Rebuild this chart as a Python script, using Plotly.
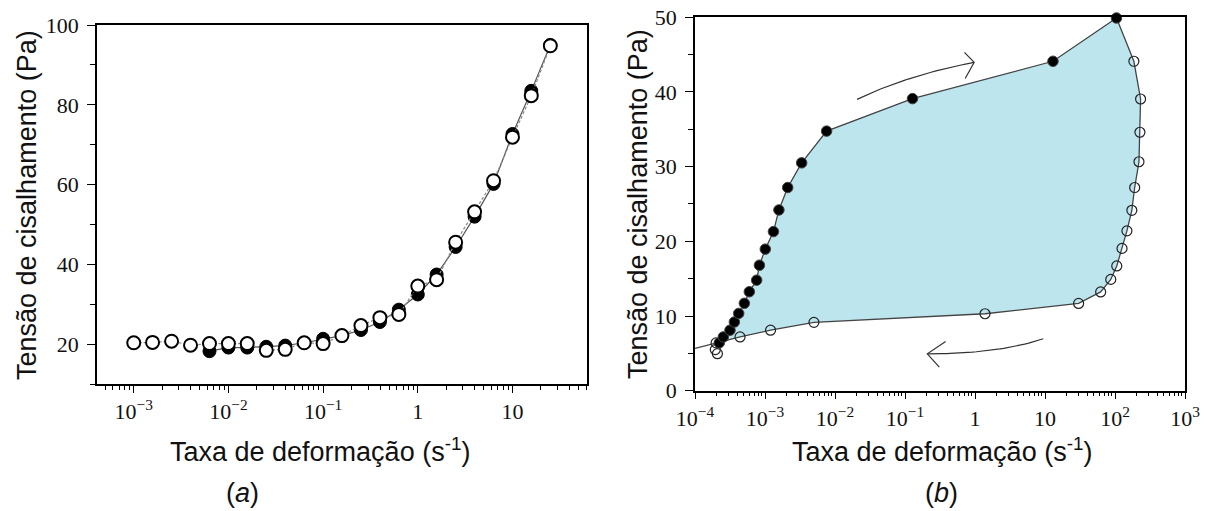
import plotly.graph_objects as go

# ---------------- Panel (a) data ----------------
a_open_x = [0.001, 0.00158, 0.00251, 0.00398, 0.00631, 0.01, 0.0158, 0.0251, 0.0398, 0.0631,
            0.1, 0.158, 0.251, 0.398, 0.631, 1.0, 1.58, 2.51, 3.98, 6.31, 10.0, 15.8, 25.1]
a_open_y = [20.4, 20.5, 20.8, 19.8, 20.2, 20.2, 20.2, 18.5, 18.75, 20.4,
            20.2, 22.2, 24.7, 26.7, 27.5, 34.6, 36.2, 45.6, 53.2, 61.0, 71.9, 82.3, 94.8]
a_fill_x = [0.00631, 0.01, 0.0158, 0.0251, 0.0398, 0.0631,
            0.1, 0.158, 0.251, 0.398, 0.631, 1.0, 1.58, 2.51, 3.98, 6.31, 10.0, 15.8, 25.1]
a_fill_y = [18.3, 19.2, 19.2, 19.4, 19.7, 20.4,
            21.4, 22.2, 23.6, 25.6, 28.7, 32.5, 37.5, 44.4, 52.0, 60.2, 72.7, 83.5, 95.0]

# ---------------- Panel (b) data ----------------
# increasing shear rate (filled circles)
b_up_x = [2.22e-4, 2.54e-4, 3.16e-4, 3.65e-4, 4.21e-4, 5.07e-4, 5.97e-4, 7.60e-4, 8.32e-4,
          1.01e-3, 1.32e-3, 1.58e-3, 2.11e-3, 3.34e-3, 7.59e-3, 0.128, 13.0, 105.0]
b_up_y = [6.4, 7.2, 8.1, 9.2, 10.35, 11.7, 13.25, 14.8, 16.8,
          18.95, 21.3, 24.2, 27.2, 30.5, 34.75, 39.1, 44.1, 49.9]
# decreasing shear rate (open circles), ordered from the top
b_down_x = [186.0, 232.0, 227.0, 220.0, 191.0, 174.0, 148.0, 126.0, 106.0, 87.0, 62.4, 30.2,
            1.39, 5.0e-3, 1.20e-3, 4.40e-4, 2.0e-4, 1.95e-4, 2.09e-4]
b_down_y = [44.1, 39.05, 34.6, 30.65, 27.2, 24.15, 21.4, 19.05, 16.7, 14.9, 13.22, 11.68,
            10.3, 9.15, 8.1, 7.2, 6.4, 5.5, 4.95]
# the descending curve runs through the first 17 open points and on to the left edge
b_down_line_n = 17
b_tail_x = [1.0e-4]
b_tail_y = [5.67]

# ---------------- styles ----------------
AX_FONT = dict(family="Liberation Serif, Times New Roman, serif", size=22, color="#111")
TITLE_FONT = dict(family="Liberation Sans, Arial, sans-serif", size=27, color="#111")
W, H = 1214, 511


def px(x):
    return x / W


def py(y):
    return 1 - y / H


def log_minor(lo, hi):
    vals = []
    for e in range(lo, hi):
        for m in range(2, 10):
            vals.append(m * 10.0 ** e)
    return vals


fig = go.Figure()

# ---- panel (a) ----
fig.add_trace(go.Scatter(x=a_fill_x, y=a_fill_y, mode="lines+markers",
                         line=dict(color="#555", width=1.2),
                         marker=dict(symbol="circle", size=13, color="black",
                                     line=dict(color="black", width=1)),
                         xaxis="x", yaxis="y", showlegend=False))
fig.add_trace(go.Scatter(x=a_open_x, y=a_open_y, mode="lines+markers",
                         line=dict(color="#8a8a8a", width=1.2, dash="3px,2px"),
                         marker=dict(symbol="circle", size=13, color="white",
                                     line=dict(color="black", width=2)),
                         xaxis="x", yaxis="y", showlegend=False))

# ---- panel (b) ----
poly_x = b_up_x + b_down_x[:16]
poly_y = b_up_y + b_down_y[:16]
fig.add_trace(go.Scatter(x=poly_x, y=poly_y, mode="lines", fill="toself",
                         fillcolor="#bde5ee", line=dict(width=0),
                         xaxis="x2", yaxis="y2", showlegend=False, hoverinfo="skip"))
line_x = [b_up_x[-1]] + b_down_x[:b_down_line_n] + b_tail_x
line_y = [b_up_y[-1]] + b_down_y[:b_down_line_n] + b_tail_y
fig.add_trace(go.Scatter(x=line_x, y=line_y, mode="lines",
                         line=dict(color="#444", width=1.3),
                         xaxis="x2", yaxis="y2", showlegend=False))
fig.add_trace(go.Scatter(x=b_down_x, y=b_down_y, mode="markers", cliponaxis=False,
                         marker=dict(symbol="circle-open", size=10, color="#222",
                                     line=dict(width=1.2)),
                         xaxis="x2", yaxis="y2", showlegend=False))
fig.add_trace(go.Scatter(x=b_up_x, y=b_up_y, mode="lines+markers", cliponaxis=False,
                         line=dict(color="#444", width=1.3),
                         marker=dict(symbol="circle", size=10.5, color="black",
                                     line=dict(color="#444", width=1)),
                         xaxis="x2", yaxis="y2", showlegend=False))


# ---- direction arrows (decoration, quadratic curves in log-x space) ----
def bez(p0, p1, p2, n=30):
    xs, ys = [], []
    for i in range(n + 1):
        t = i / n
        lx = (1 - t) ** 2 * p0[0] + 2 * (1 - t) * t * p1[0] + t ** 2 * p2[0]
        ly = (1 - t) ** 2 * p0[1] + 2 * (1 - t) * t * p1[1] + t ** 2 * p2[1]
        xs.append(10 ** lx)
        ys.append(ly)
    return xs, ys


arrows = [
    # (start, control, end, arm1, arm2)  in (log10 x, y)
    ((-1.685, 39.0), (-0.95, 42.3), (-0.012, 43.95), (-0.151, 45.3), (-0.140, 41.8)),
    ((0.975, 6.95), (0.35, 4.95), (-0.681, 4.93), (-0.42, 6.6), (-0.51, 3.15)),
]
for s, c, e, a1, a2 in arrows:
    xs, ys = bez(s, c, e)
    fig.add_trace(go.Scatter(x=xs, y=ys, mode="lines", line=dict(color="#333", width=1.2),
                             xaxis="x2", yaxis="y2", showlegend=False, hoverinfo="skip"))
    fig.add_trace(go.Scatter(x=[10 ** a1[0], 10 ** e[0], 10 ** a2[0]], y=[a1[1], e[1], a2[1]],
                             mode="lines", line=dict(color="#333", width=1.2),
                             xaxis="x2", yaxis="y2", showlegend=False, hoverinfo="skip"))

common_axis = dict(showline=True, linecolor="black", linewidth=1.5, mirror=True,
                   ticks="outside", tickcolor="black", tickwidth=1.3, showgrid=False,
                   zeroline=False, tickfont=AX_FONT, automargin=False)

fig.update_layout(
    width=W, height=H,
    margin=dict(l=0, r=0, t=0, b=0),
    paper_bgcolor="white", plot_bgcolor="white",
    xaxis=dict(type="log", range=[-3.388, 1.787], domain=[px(97), px(587)], anchor="y",
               tickvals=[0.001, 0.01, 0.1, 1, 10],
               ticktext=["10<sup>−3</sup>", "10<sup>−2</sup>", "10<sup>−1</sup>", "1", "10"],
               ticklen=7,
               minor=dict(tickvals=log_minor(-4, 2), ticks="outside", ticklen=4,
                          tickcolor="black", tickwidth=1.1),
               **common_axis),
    yaxis=dict(range=[10, 100], domain=[py(384.3), py(25)], anchor="x",
               tick0=0, dtick=20, ticklen=8, ticklabelstandoff=4,
               minor=dict(tick0=0, dtick=10, ticks="outside", ticklen=5,
                          tickcolor="black", tickwidth=1.1),
               **common_axis),
    xaxis2=dict(type="log", range=[-4, 3], domain=[px(695), px(1185)], anchor="y2",
                tickvals=[1e-4, 1e-3, 1e-2, 1e-1, 1, 10, 100, 1000],
                ticktext=["10<sup>−4</sup>", "10<sup>−3</sup>", "10<sup>−2</sup>", "10<sup>−1</sup>",
                          "1", "10", "10<sup>2</sup>", "10<sup>3</sup>"],
                ticklen=7,
                minor=dict(tickvals=log_minor(-4, 3), ticks="outside", ticklen=4,
                           tickcolor="black", tickwidth=1.1),
                **common_axis),
    yaxis2=dict(range=[0, 50], domain=[py(390.7), py(17.2)], anchor="x2",
                tick0=0, dtick=10, ticklen=8, ticklabelstandoff=4,
                minor=dict(tick0=0, dtick=5, ticks="outside", ticklen=5,
                           tickcolor="black", tickwidth=1.1),
                **common_axis),
)

annos = [
    dict(text="Tensão de cisalhamento (Pa)", x=px(27), y=py(205), textangle=-90),
    dict(text="Tensão de cisalhamento (Pa)", x=px(638), y=py(204), textangle=-90),
    dict(text="Taxa de deformação (s<sup>-1</sup>)", x=px(320), y=py(450)),
    dict(text="Taxa de deformação (s<sup>-1</sup>)", x=px(942), y=py(450)),
    dict(text="(<i>a</i>)", x=px(242), y=py(493)),
    dict(text="(<i>b</i>)", x=px(941), y=py(493)),
]
for a in annos:
    fig.add_annotation(xref="paper", yref="paper", showarrow=False,
                       xanchor="center", yanchor="middle", font=TITLE_FONT, **a)

fig.write_html("out.html", config={"displayModeBar": False},
               post_script="document.body.style.margin='0px';document.body.style.overflow='hidden';")
